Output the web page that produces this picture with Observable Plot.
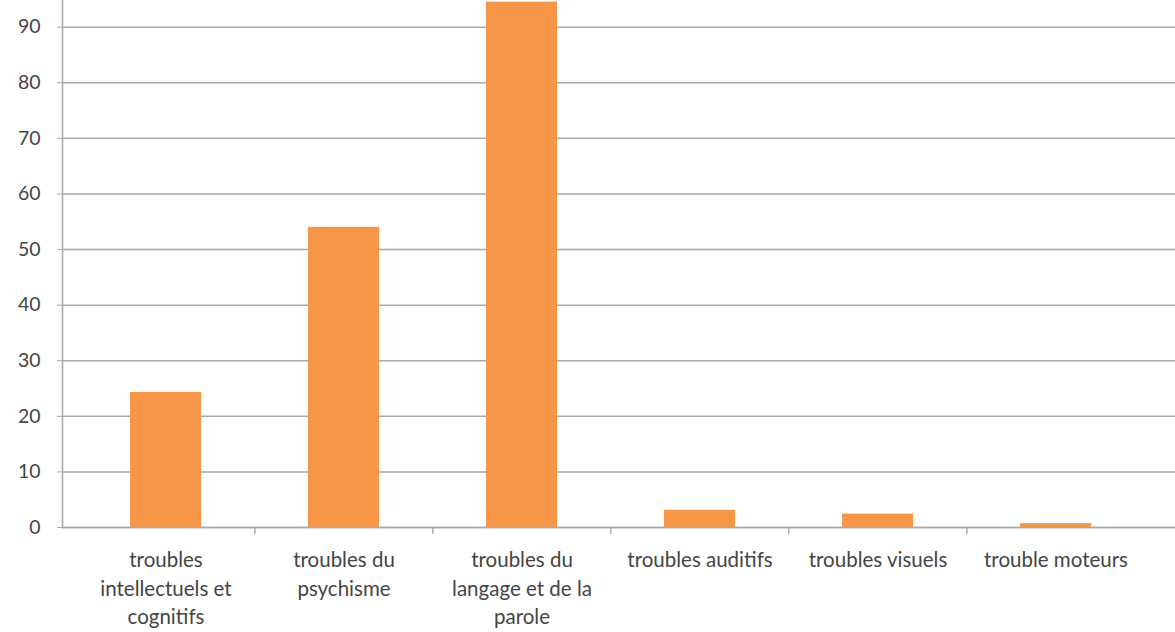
<!DOCTYPE html>
<html>
<head>
<meta charset="utf-8">
<script src="https://cdn.jsdelivr.net/npm/d3@7"></script>
<script src="https://cdn.jsdelivr.net/npm/@observablehq/plot@0.6"></script>
<style>
  html, body { margin: 0; padding: 0; background: #fff; }
  #chart svg { display: block; }
</style>
</head>
<body>
<div id="chart"></div>
<script>
const categories = [
  "troubles\nintellectuels et\ncognitifs",
  "troubles du\npsychisme",
  "troubles du\nlangage et de la\nparole",
  "troubles auditifs",
  "troubles visuels",
  "trouble moteurs"
];
const values = [24.3, 54.0, 94.5, 3.1, 2.4, 0.7];
const yTicks = [0, 10, 20, 30, 40, 50, 60, 70, 80, 90];

const data = categories.map((c, i) => ({category: c, value: values[i]}));

const W = 1175, H = 632;
const xRange = [76, 1146];
const step = (xRange[1] - xRange[0]) / categories.length;
const grey = "#a9a9a9";
const textColor = "#454545";

const chart = Plot.plot({
  width: W,
  height: H,
  marginTop: 0,
  marginLeft: 62,
  marginRight: 0,
  marginBottom: 105,
  style: {fontFamily: "Lato, 'Open Sans', sans-serif", fontSize: "20px", color: textColor, background: "#fff"},
  x: {domain: categories, range: xRange, paddingInner: 0.6, paddingOuter: 0.3, label: null},
  y: {domain: [0, 94.8], label: null},
  marks: [
    Plot.gridY(yTicks, {stroke: grey, strokeOpacity: 1, strokeWidth: 1.5}),
    Plot.frame({anchor: "left", stroke: grey, strokeWidth: 1.5}),
    Plot.barY(data, {x: "category", y: "value", fill: "#F79646"}),
    Plot.ruleY([0], {stroke: grey, strokeWidth: 1.5}),
    Plot.ruleX(categories.slice(1), {x: d => d, y1: 0, y2: -1.2, dx: -step / 2, stroke: grey, strokeWidth: 1.5}),
    Plot.axisY(yTicks, {tickSize: 5, tickPadding: 17, stroke: grey, fill: textColor, fontSize: 19.5, label: null}),
    Plot.axisX({tickSize: 0, tickPadding: 19, fill: textColor, fontSize: 20.5, lineHeight: 1.4, label: null})
  ]
});
document.getElementById("chart").appendChild(chart);
</script>
</body>
</html>
